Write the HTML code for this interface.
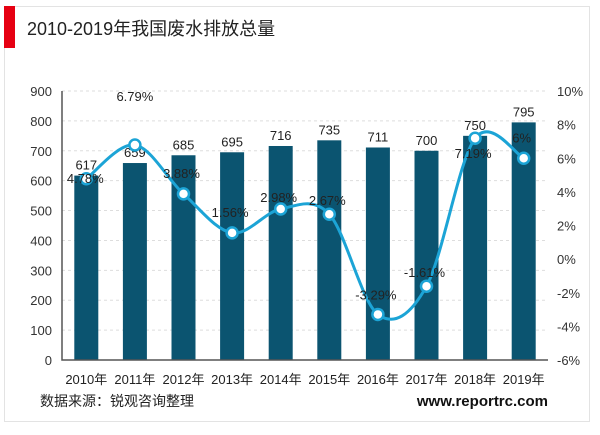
<!DOCTYPE html>
<html><head><meta charset="utf-8"><style>
body{margin:0;width:600px;height:430px;background:#fff;overflow:hidden;font-family:"Liberation Sans","Noto Sans CJK SC",sans-serif}
</style></head><body>
<svg id="c" width="600" height="430" xmlns="http://www.w3.org/2000/svg">
<rect x="4.5" y="6.5" width="585" height="415" fill="#fff" stroke="#e3e3e3"/>
<rect x="4" y="6" width="11" height="42" fill="#e60012"/>
<text x="27" y="35" font-size="18" fill="#222">2010-2019年我国废水排放总量</text>
<text x="40" y="406" font-size="14" fill="#222">数据来源：锐观咨询整理</text>
<text x="548" y="406" font-size="15" font-weight="bold" fill="#111" text-anchor="end">www.reportrc.com</text>
</svg>
<script>
const categories=["2010年","2011年","2012年","2013年","2014年","2015年","2016年","2017年","2018年","2019年"];
const volumes=[617,659,685,695,716,735,711,700,750,795];
const growth=[4.78,6.79,3.88,1.56,2.98,2.67,-3.29,-1.61,7.19,6];
const growthLabels=["4.78%","6.79%","3.88%","1.56%","2.98%","2.67%","-3.29%","-1.61%","7.19%","6%"];
const leftTicks=[0,100,200,300,400,500,600,700,800,900];
const rightTicks=[-6,-4,-2,0,2,4,6,8,10];
const svg=document.getElementById('c'),NS="http://www.w3.org/2000/svg";
const X0=62,X1=548,YT=91,YB=360;
const band=(X1-X0)/categories.length;
const xc=i=>X0+band*(i+0.5);
const yL=v=>YB-(v/900)*(YB-YT);
const yR=v=>YB-((v+6)/16)*(YB-YT);
const labOff=[[-1,4],[0,-44],[-2,-16],[-2,-16],[-2,-7],[-2,-9],[-2,-15],[-2,-9],[-2,20],[-2,-16]];
function mk(t,a,txt){const e=document.createElementNS(NS,t);for(const k in a)e.setAttribute(k,a[k]);if(txt!=null)e.textContent=txt;svg.appendChild(e);return e;}
leftTicks.forEach(t=>{
 if(t>0){const g=mk('line',{x1:X0,x2:X1,y1:yL(t),y2:yL(t),stroke:'#ddd','stroke-dasharray':'3,3'});
 
 }
 const e=mk('text',{x:52,y:yL(t)+5,'font-size':13,fill:'#333','text-anchor':'end'},t);
 
 
});
rightTicks.forEach(t=>{
 const e=mk('text',{x:557,y:yR(t)+5,'font-size':13,fill:'#333'},t+'%');
 
 
});
categories.forEach((c,i)=>{
 const b=mk('rect',{x:xc(i)-12,y:yL(volumes[i]),width:24,height:YB-yL(volumes[i]),fill:'#0b5470'});
 
 
 const v=mk('text',{x:xc(i),y:yL(volumes[i])-6,'font-size':13,fill:'#222','text-anchor':'middle'},volumes[i]);
 
 
 const l=mk('text',{x:xc(i),y:YB+24,'font-size':13,fill:'#222','text-anchor':'middle'},c);
 
 
});
const ax=mk('path',{d:`M${X0} ${YT}V${YB}H${X1}`,stroke:'#555','stroke-width':1.5,fill:'none'});


const P=growth.map((g,i)=>[xc(i),yR(g)]);
let d=`M${P[0][0]} ${P[0][1]}`;
for(let i=0;i<P.length-1;i++){const p0=P[i-1]||P[i],p1=P[i],p2=P[i+1],p3=P[i+2]||p2;
 d+=`C${p1[0]+(p2[0]-p0[0])/6} ${p1[1]+(p2[1]-p0[1])/6},${p2[0]-(p3[0]-p1[0])/6} ${p2[1]-(p3[1]-p1[1])/6},${p2[0]} ${p2[1]}`;}
const ln=mk('path',{d:d,stroke:'#1ca4d6','stroke-width':3,fill:'none'});


P.forEach((p,i)=>{
 const m=mk('circle',{cx:p[0],cy:p[1],r:5.5,fill:'#fff',stroke:'#1ca4d6','stroke-width':2.5});
 
 
 const t=mk('text',{x:p[0]+labOff[i][0],y:p[1]+labOff[i][1],'font-size':13,fill:'#222','text-anchor':'middle'},growthLabels[i]);
 
 
});
</script>
</body></html>
